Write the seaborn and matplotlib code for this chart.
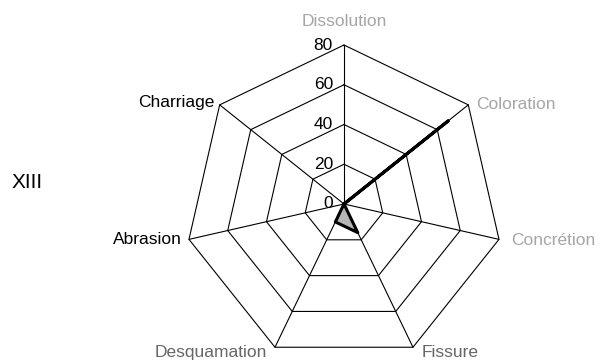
import numpy as np
import matplotlib
matplotlib.use("Agg")
import matplotlib.pyplot as plt
import seaborn as sns
import pandas as pd

categories = ["Dissolution", "Coloration", "Concrétion", "Fissure",
              "Desquamation", "Abrasion", "Charriage"]
values = [0, 67, 0, 16, 10, 0, 0]
ring_values = [20, 40, 60, 80]
tick_values = [0, 20, 40, 60, 80]
tick_labels = ["0", "20", "40", "60", "80"]
label_colors = ["#a6a6a6", "#a6a6a6", "#a6a6a6", "#666666",
                "#666666", "#000000", "#000000"]
series_name = "XIII"

sns.set_theme(style="white")
plt.rcParams["font.family"] = ["Liberation Sans", "DejaVu Sans"]

fig = plt.figure(figsize=(6, 3.6), dpi=100)
ax = fig.add_axes([0.3083, -0.0083, 0.53, 0.8833], projection="polar")
ax.set_theta_offset(np.pi / 2)
ax.set_theta_direction(-1)
ax.set_rlim(0, 80)

n = len(categories)
angles = np.linspace(0, 2 * np.pi, n, endpoint=False)
closed = np.append(angles, angles[0])

for r in ring_values:
    ax.plot(closed, [r] * (n + 1), color="black", lw=0.8, zorder=1, clip_on=False)
for a in angles:
    ax.plot([a, a], [0, ring_values[-1]], color="black", lw=0.8, zorder=1, clip_on=False)

vals_closed = values + values[:1]
ax.fill(closed, vals_closed, color="#b5b5b5", zorder=2)
df = pd.DataFrame({"theta": closed, "r": vals_closed})
sns.lineplot(data=df, x="theta", y="r", sort=False, estimator=None,
             color="black", lw=2.2, ax=ax, zorder=3)

ax.set_xlabel("")
ax.set_ylabel("")
ax.grid(False)
ax.set_xticks([])
ax.set_yticks([])
ax.spines["polar"].set_visible(False)
ax.patch.set_alpha(0)

offsets = [(0, 23), (8, 0), (12, -1), (9, -5), (-8, -5), (-7, 0), (-5, 2)]
aligns = ["center", "left", "left", "left", "right", "right", "right"]
for a, cat, off, ha, col in zip(angles, categories, offsets, aligns, label_colors):
    ax.annotate(cat, xy=(a, ring_values[-1]), xytext=off, textcoords="offset pixels",
                ha=ha, va="center", fontsize=12.5, color=col, annotation_clip=False)

for v, lbl in zip(tick_values, tick_labels):
    ax.annotate(lbl, xy=(0, v), xytext=(-11, 0), textcoords="offset pixels",
                ha="right", va="center", fontsize=12.5, color="black",
                annotation_clip=False)

fig.text(0.02, 1 - 182 / 360, series_name, ha="left", va="center", fontsize=15,
         color="black")

fig.savefig("out.png", dpi=100)
